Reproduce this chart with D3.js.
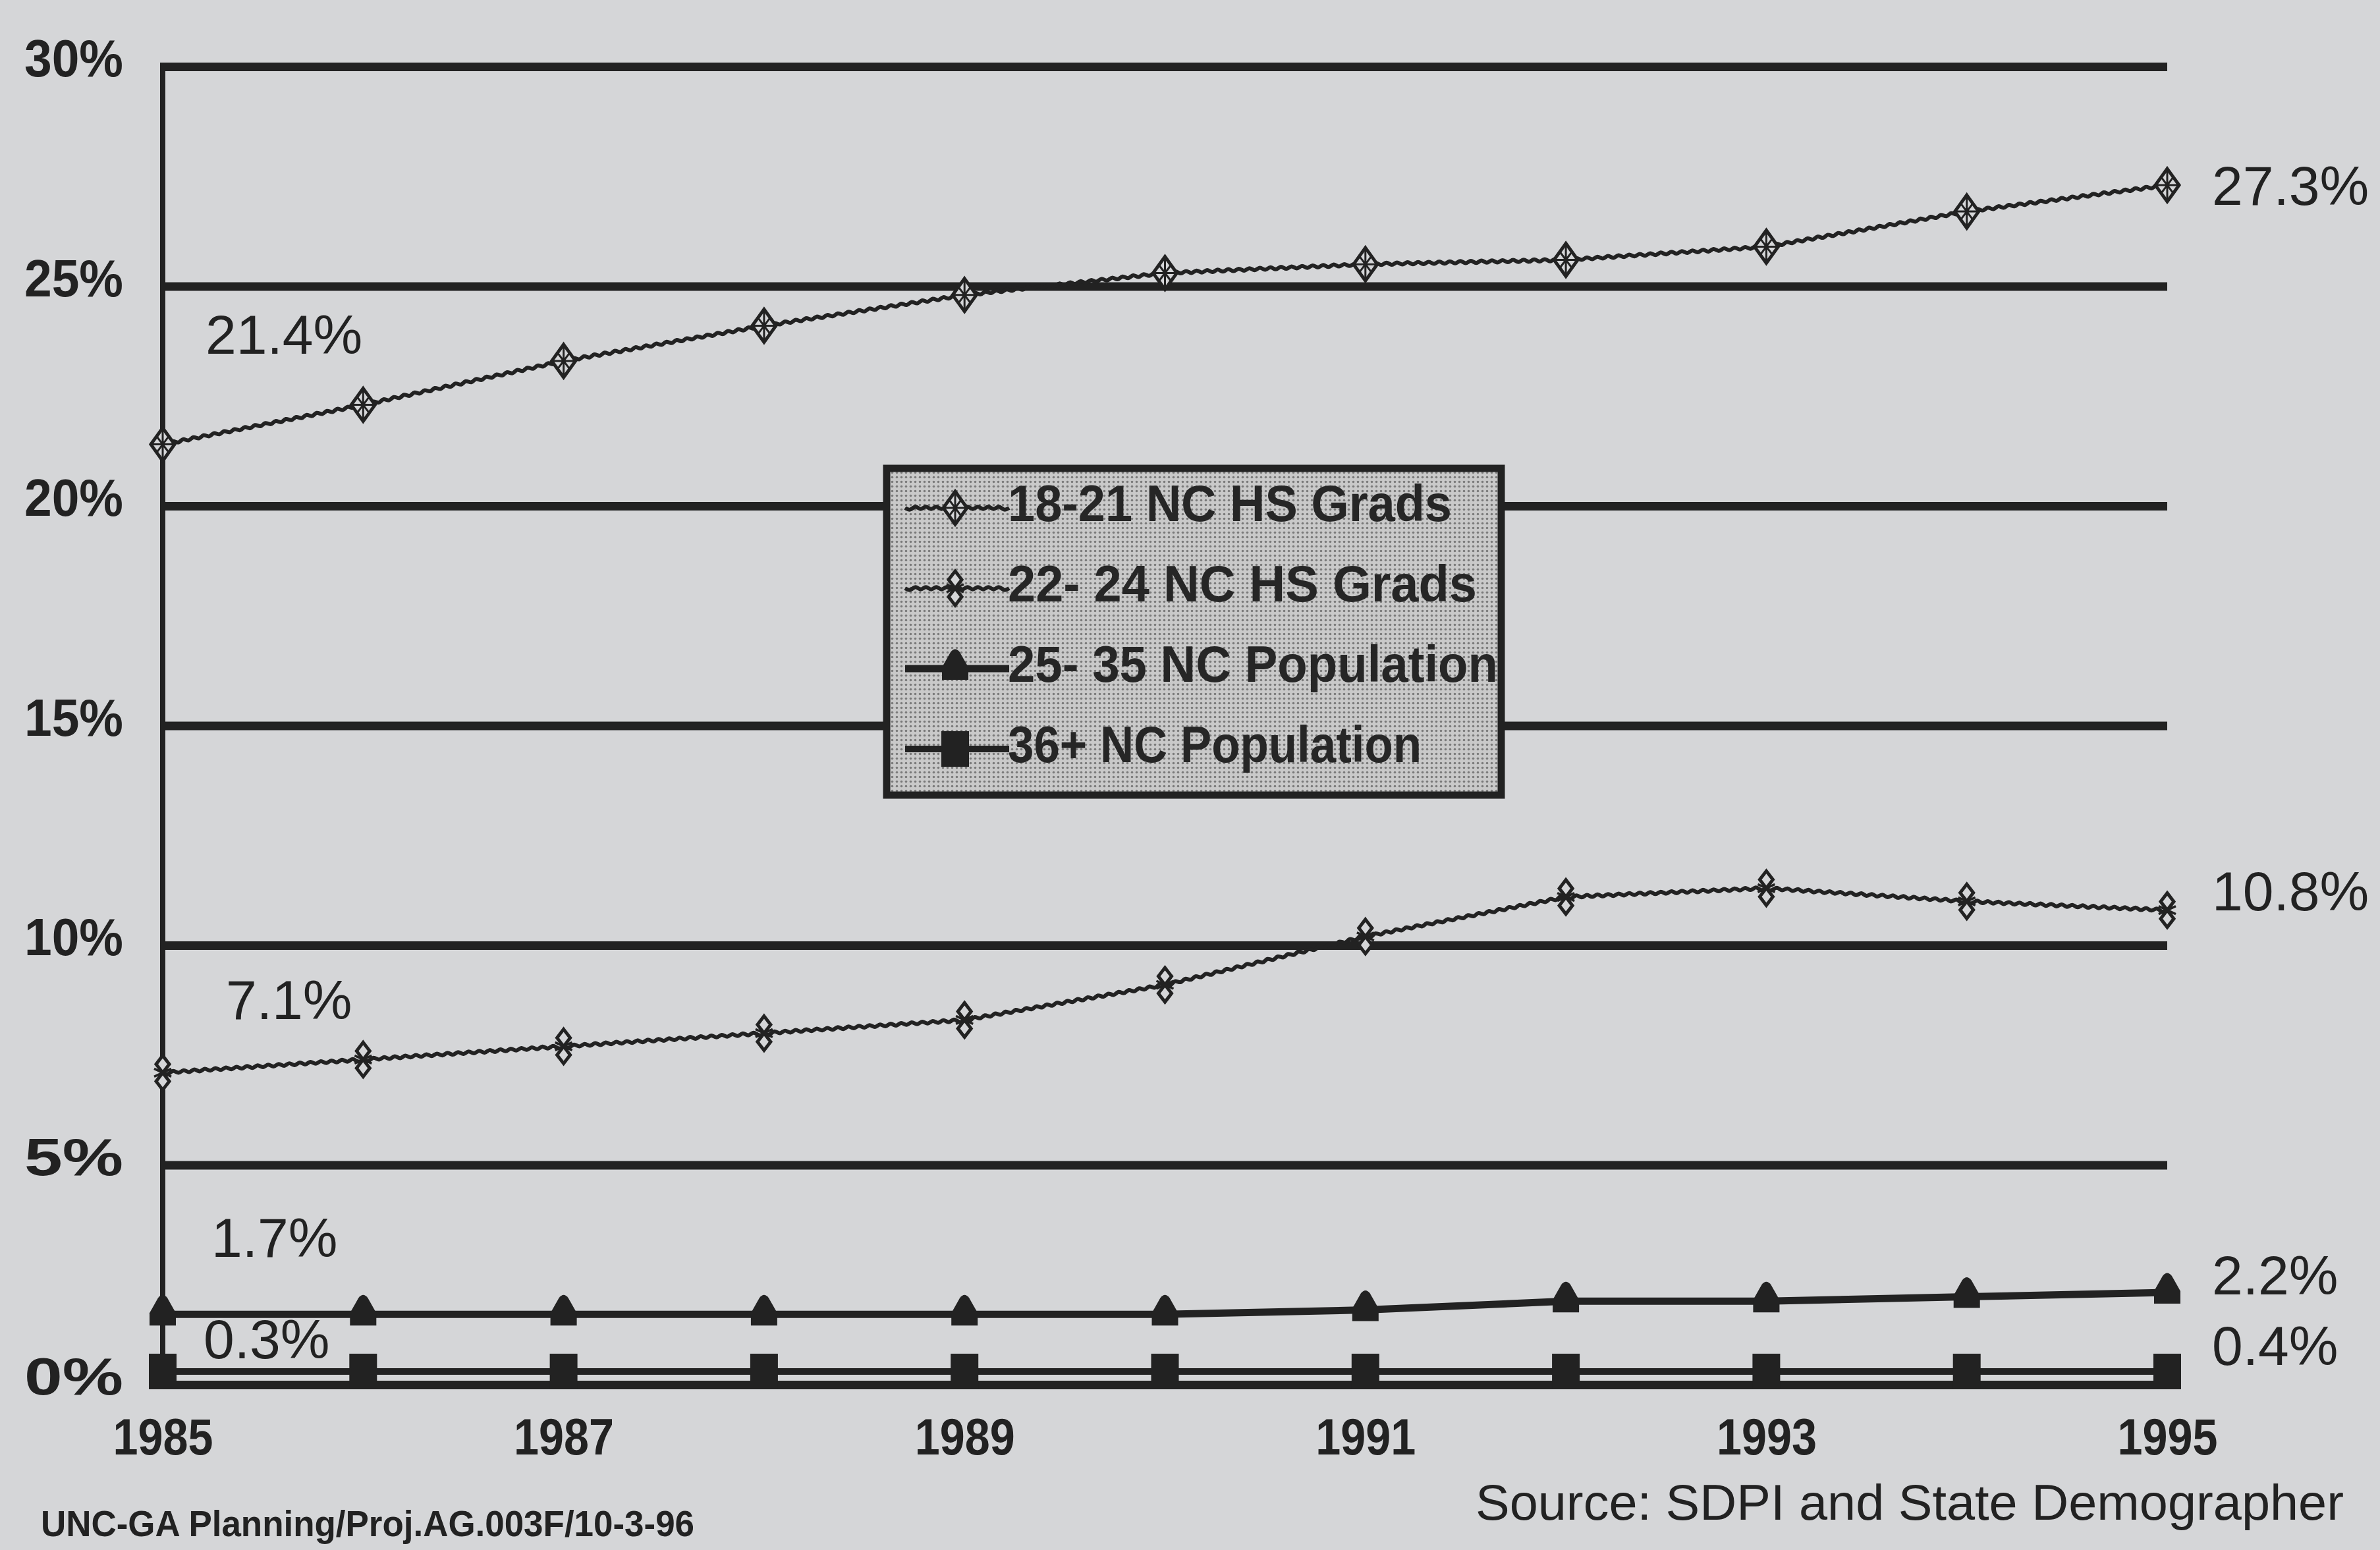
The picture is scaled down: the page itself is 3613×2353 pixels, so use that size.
<!DOCTYPE html>
<html><head><meta charset="utf-8">
<script src="https://cdn.jsdelivr.net/npm/d3@7"></script>
<style>html,body{margin:0;padding:0;background:#d5d6d8;}svg{display:block}</style>
</head><body>
<svg id="chart" width="3613" height="2353"></svg>
<script>
// ---------- data ----------
const years = [1985,1986,1987,1988,1989,1990,1991,1992,1993,1994,1995];
const grads1821 = [21.4,22.3,23.3,24.1,24.8,25.3,25.5,25.6,25.9,26.7,27.3];
const grads2224 = [7.1,7.4,7.7,8.0,8.3,9.1,10.2,11.1,11.3,11.0,10.8];
const pop2535   = [1.6,1.6,1.6,1.6,1.6,1.6,1.7,1.9,1.9,2.0,2.1];
const pop36     = [0.3,0.3,0.3,0.3,0.3,0.3,0.3,0.3,0.3,0.3,0.3];
const seriesNames = ["18-21 NC HS Grads","22- 24 NC HS Grads","25- 35 NC Population","36+ NC Population"];
const startLabels = ["21.4%","7.1%","1.7%","0.3%"];
const endLabels   = ["27.3%","10.8%","2.2%","0.4%"];
const yTicks = [0,5,10,15,20,25,30];
const xTicks = [1985,1987,1989,1991,1993,1995];
const footLeft = "UNC-GA Planning/Proj.AG.003F/10-3-96";
const footRight = "Source:  SDPI and State Demographer";

// ---------- layout ----------
const INK = "#222";
const BG = "#d5d6d8";
const FONT = "'Liberation Sans', Arial, sans-serif";
const svg = d3.select("#chart");
const x = d3.scaleLinear().domain([1985,1995]).range([247,3290]);
const y = d3.scaleLinear().domain([0,30]).range([2102,101]);

const defs = svg.append("defs");
const pat = defs.append("pattern").attr("id","dots").attr("width",7).attr("height",7).attr("patternUnits","userSpaceOnUse");
pat.append("rect").attr("width",7).attr("height",7).attr("fill","#c9c9c9");
pat.append("circle").attr("cx",3.5).attr("cy",3.5).attr("r",1.8).attr("fill","#7a7a7a");

// gridlines
const grid = svg.append("g").attr("transform",`translate(${x(1985)},0)`)
  .call(d3.axisLeft(y).tickValues(yTicks).tickSize(-(x(1995)-x(1985))).tickFormat(""));
grid.select(".domain").remove();
grid.selectAll(".tick line").attr("stroke",INK).attr("stroke-width",13);

// y tick labels
const yAx = svg.append("g").attr("transform",`translate(${x(1985)},0)`)
  .call(d3.axisLeft(y).tickValues(yTicks).tickSize(0).tickPadding(60).tickFormat(d=>d+"%"));
yAx.select(".domain").remove();
yAx.selectAll("text").attr("font-family",FONT).attr("font-weight","bold").attr("font-size",80)
  .attr("fill",INK).attr("dy","0.36em").attr("transform","translate(0,-14)")
  .attr("textLength",150).attr("lengthAdjust","spacingAndGlyphs");

// left axis line
svg.append("line").attr("x1",x(1985)).attr("x2",x(1985)).attr("y1",y(30)-6).attr("y2",y(0)+6)
  .attr("stroke",INK).attr("stroke-width",8);

// x tick labels
const xAx = svg.append("g").attr("transform",`translate(0,${y(0)})`)
  .call(d3.axisBottom(x).tickValues(xTicks).tickSize(0).tickFormat(d3.format("d")));
xAx.select(".domain").remove();
xAx.selectAll("text").attr("font-family",FONT).attr("font-weight","bold").attr("font-size",78)
  .attr("fill",INK).attr("dy",null).attr("y",106)
  .attr("textLength",152).attr("lengthAdjust","spacingAndGlyphs");

// ---------- marker shapes ----------
function diamondMarker(g){
  g.append("path").attr("d","M0,-25 L18,0 L0,25 L-18,0 Z").attr("fill",BG).attr("stroke",INK).attr("stroke-width",5);
  g.append("path").attr("d","M0,-25 L0,25 M-18,0 L18,0 M-9,-12 L9,12 M9,-12 L-9,12").attr("stroke",INK).attr("stroke-width",3);
}
function hourglassMarker(g){
  g.append("path").attr("d","M0,-26 L10,-13 L0,0 L-10,-13 Z M0,0 L10,13 L0,26 L-10,13 Z").attr("fill",BG).attr("stroke",INK).attr("stroke-width",5);
  g.append("path").attr("d","M-13,-6 L13,6 M-13,6 L13,-6").attr("stroke",INK).attr("stroke-width",3.5);
}
function triMarker(g){
  g.append("path").attr("d","M-20,17 L-20,-2 L-7,-25 Q0,-34 7,-25 L20,-2 L20,17 Z").attr("fill",INK);
}
function squareMarker(g){
  g.append("rect").attr("x",-21).attr("y",-27).attr("width",42).attr("height",54).attr("fill",INK);
}

// zig-zag (scanned dotted) line
function wavyPath(pts){
  const out = [];
  for(let i=0;i<pts.length-1;i++){
    const [x0,y0]=pts[i],[x1,y1]=pts[i+1];
    const dx=x1-x0, dy=y1-y0, L=Math.hypot(dx,dy);
    const n=Math.max(2,Math.round(L/8));
    const nx=-dy/L, ny=dx/L;
    for(let k=0;k<n;k++){
      const t=k/n, a=(k%2?5:-5)*(k===0?0:1);
      out.push([x0+dx*t+nx*a, y0+dy*t+ny*a]);
    }
  }
  out.push(pts[pts.length-1]);
  return d3.line().curve(d3.curveBasis)(out);
}

const series = [
  {vals:grads1821, type:"wavy", marker:diamondMarker},
  {vals:grads2224, type:"wavy", marker:hourglassMarker},
  {vals:pop2535, type:"solid", width:11, marker:triMarker},
  {vals:pop36, type:"solid", width:10, marker:squareMarker}
];

// legend box (drawn over gridlines)
const lg = {x:1346,y:711,w:933,h:496,row0:763,rowStep:122,sx0:1374,sx1:1532,mx:1450,tx:1530};
svg.append("rect").attr("x",lg.x).attr("y",lg.y).attr("width",lg.w).attr("height",lg.h)
  .attr("fill","url(#dots)").attr("stroke",INK).attr("stroke-width",11);
const legendW = [674,712,744,628];
series.forEach((s,i)=>{
  const cy = lg.row0 + i*lg.rowStep;
  if(s.type==="wavy"){
    svg.append("path").attr("d",wavyPath([[lg.sx0,cy+8],[lg.sx1,cy+8]])).attr("fill","none").attr("stroke",INK).attr("stroke-width",6);
  } else {
    svg.append("line").attr("x1",lg.sx0).attr("x2",lg.sx1).attr("y1",cy+8).attr("y2",cy+8).attr("stroke",INK).attr("stroke-width",s.width);
  }
  s.marker(svg.append("g").attr("transform",`translate(${lg.mx},${cy+8})`));
  svg.append("text").attr("x",lg.tx).attr("y",cy+28).text(seriesNames[i])
    .attr("font-family",FONT).attr("font-weight","bold").attr("font-size",78).attr("fill","#262626")
    .attr("textLength",legendW[i]).attr("lengthAdjust","spacingAndGlyphs");
});

// series lines and markers
series.forEach(s=>{
  const pts = years.map((yr,j)=>[x(yr),y(s.vals[j])]);
  if(s.type==="wavy"){
    svg.append("path").attr("d",wavyPath(pts)).attr("fill","none").attr("stroke",INK).attr("stroke-width",6);
  } else {
    svg.append("path").attr("d",d3.line()(pts)).attr("fill","none").attr("stroke",INK).attr("stroke-width",s.width);
  }
  pts.forEach(p=>s.marker(svg.append("g").attr("transform",`translate(${p[0]},${p[1]})`)));
});

// value labels
const startDy = [-168,-112,-118,-50];
const startDx = [65,96,74,62];
const endDy = [0,-30,-27,-40];
series.forEach((s,i)=>{
  svg.append("text").attr("x",x(1985)+startDx[i]).attr("y",y(s.vals[0])+startDy[i]).attr("dy","0.36em")
    .text(startLabels[i]).attr("font-family",FONT).attr("font-size",84).attr("fill",INK);
  svg.append("text").attr("x",x(1995)+68).attr("y",y(s.vals[s.vals.length-1])+endDy[i]).attr("dy","0.36em")
    .text(endLabels[i]).attr("font-family",FONT).attr("font-size",84).attr("fill",INK);
});

// footers
svg.append("text").attr("x",62).attr("y",2332).text(footLeft)
  .attr("font-family",FONT).attr("font-weight","bold").attr("font-size",56).attr("fill",INK)
  .attr("textLength",992).attr("lengthAdjust","spacingAndGlyphs");
svg.append("text").attr("x",2240).attr("y",2307).text(footRight)
  .attr("font-family",FONT).attr("font-size",76).attr("fill",INK)
  .attr("textLength",1318).attr("lengthAdjust","spacingAndGlyphs");
</script>
</body></html>
